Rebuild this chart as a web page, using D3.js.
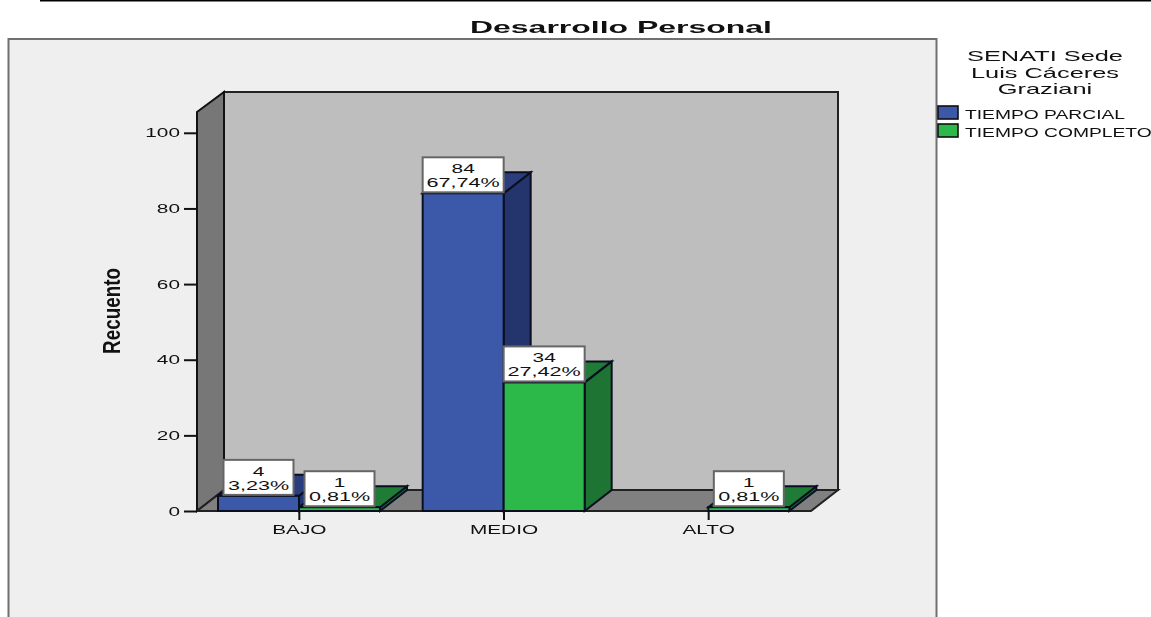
<!DOCTYPE html>
<html>
<head>
<meta charset="utf-8">
<script src="https://cdn.jsdelivr.net/npm/d3@7"></script>
<style>
html, body { margin: 0; padding: 0; background: #fff; }
svg { display: block; filter: blur(0.6px); }
text { font-family: "Liberation Sans", Arial, sans-serif; fill: #111; }
</style>
</head>
<body>
<svg id="chart" width="1151" height="617"></svg>
<script>
const categories = ['BAJO', 'MEDIO', 'ALTO']
const seriesNames = ['TIEMPO PARCIAL', 'TIEMPO COMPLETO']
const parcial = [4, 84, 0]
const completo = [1, 34, 1]
const parcialPct = ['3,23%', '67,74%', '0%']
const completoPct = ['0,81%', '27,42%', '0,81%']
const yTicks = [0, 20, 40, 60, 80, 100]
const legendTitle = ['SENATI Sede', 'Luis Cáceres', 'Graziani']

const colors = [
	{ front: '#3c58a8', side: '#24346c', top: '#2a3d7c' },
	{ front: '#2db84a', side: '#1e7433', top: '#1f7c36' }
]

const svg = d3.select('#chart')
const depthX = 27
const depthY = 21

// stretches a text horizontally, the picture is wider than it was drawn
const stretch = function(sel, k){
	sel.attr('lengthAdjust', 'spacingAndGlyphs')
		.attr('textLength', function(){ return this.getComputedTextLength() * k })
}

svg.append('line')
	.attr('x1', 40).attr('x2', 1151).attr('y1', 0.5).attr('y2', 0.5)
	.attr('stroke', '#000').attr('stroke-width', 2)

// outer panel, it runs off the bottom of the image
svg.append('rect')
	.attr('x', 8.5).attr('y', 39).attr('width', 928).attr('height', 620)
	.attr('fill', '#efefef').attr('stroke', '#707070').attr('stroke-width', 2)

svg.append('text')
	.attr('x', 621).attr('y', 33).attr('text-anchor', 'middle')
	.attr('font-size', 17).attr('font-weight', 'bold').attr('fill', '#000')
	.text('Desarrollo Personal')
	.call(stretch, 1.88)

// scales
const x = d3.scaleBand().domain(categories).range([197, 811])
const x1 = d3.scaleBand().domain([0, 1]).range([21, 183])
const y = d3.scaleLinear().domain([0, 105.5]).range([511, 112])

const x0 = x.range()[0]
const x9 = x.range()[1]
const yTop = y.range()[1]
const yBase = y.range()[0]
const poly = pts => pts.map(p => p.join(',')).join(' ')

// walls
svg.append('polygon')
	.attr('points', poly([[x0 + depthX, yTop - depthY + 1], [x9 + depthX, yTop - depthY + 1], [x9 + depthX, yBase - depthY], [x0 + depthX, yBase - depthY]]))
	.attr('fill', '#bebebe').attr('stroke', '#222').attr('stroke-width', 2)
svg.append('polygon')
	.attr('points', poly([[x0, yTop], [x0 + depthX, yTop - depthY + 1], [x0 + depthX, yBase - depthY], [x0, yBase]]))
	.attr('fill', '#777').attr('stroke', '#111').attr('stroke-width', 2)
svg.append('polygon')
	.attr('points', poly([[x0, yBase], [x0 + depthX, yBase - depthY], [x9 + depthX, yBase - depthY], [x9, yBase]]))
	.attr('fill', '#808080').attr('stroke', '#222').attr('stroke-width', 2)

// bars
const bars = []
categories.forEach((c, i) => {
	bars.push({ cat: c, s: 0, value: parcial[i], pct: parcialPct[i] })
	bars.push({ cat: c, s: 1, value: completo[i], pct: completoPct[i] })
})
const shown = bars.filter(d => d.value > 0)
const barX = d => x(d.cat) + x1(d.s)
const bw = x1.bandwidth()

const barG = svg.append('g').attr('stroke', '#0a0f20').attr('stroke-width', 2)
barG.selectAll('.side').data(shown).join('polygon')
	.attr('fill', d => colors[d.s].side)
	.attr('points', d => poly([[barX(d) + bw, y(d.value)], [barX(d) + bw + depthX, y(d.value) - depthY], [barX(d) + bw + depthX, yBase - depthY], [barX(d) + bw, yBase]]))
barG.selectAll('.top').data(shown).join('polygon')
	.attr('fill', d => colors[d.s].top)
	.attr('points', d => poly([[barX(d), y(d.value)], [barX(d) + depthX, y(d.value) - depthY], [barX(d) + bw + depthX, y(d.value) - depthY], [barX(d) + bw, y(d.value)]]))
barG.selectAll('.front').data(shown).join('rect')
	.attr('fill', d => colors[d.s].front)
	.attr('x', d => barX(d)).attr('y', d => y(d.value))
	.attr('width', bw).attr('height', d => yBase - y(d.value))

// axes
const yAxis = svg.append('g')
	.attr('transform', 'translate(' + x0 + ',0)')
	.call(d3.axisLeft(y).tickValues(yTicks).tickSize(13).tickPadding(4))
yAxis.select('.domain').remove()
yAxis.selectAll('line').attr('stroke', '#111').attr('stroke-width', 2)
yAxis.selectAll('text').attr('font-size', 13).call(stretch, 1.6)

const xAxis = svg.append('g')
	.attr('transform', 'translate(0,' + yBase + ')')
	.call(d3.axisBottom(x).tickSize(9).tickPadding(5))
xAxis.select('.domain').remove()
xAxis.selectAll('line').attr('stroke', '#111').attr('stroke-width', 2)
xAxis.selectAll('text').attr('font-size', 13).call(stretch, 1.6)

svg.append('text')
	.attr('transform', 'translate(120,311) rotate(-90)')
	.attr('text-anchor', 'middle')
	.attr('font-size', 23).attr('font-weight', 'bold').attr('fill', '#000')
	.text('Recuento')
	.call(stretch, 0.82)

// data labels
const labels = svg.append('g').selectAll('g').data(shown).join('g')
	.attr('transform', d => 'translate(' + (barX(d) + bw / 2) + ',' + y(d.value) + ')')
labels.append('rect')
	.attr('x', d => d.pct.length > 5 ? -40.5 : -35).attr('y', -36)
	.attr('width', d => d.pct.length > 5 ? 81 : 70).attr('height', 35)
	.attr('fill', '#fff').attr('stroke', '#666').attr('stroke-width', 2)
labels.append('text')
	.attr('y', -20).attr('text-anchor', 'middle').attr('font-size', 13)
	.text(d => d.value)
	.call(stretch, 1.6)
labels.append('text')
	.attr('y', -6).attr('text-anchor', 'middle').attr('font-size', 13)
	.text(d => d.pct)
	.call(stretch, 1.66)

// legend
svg.append('g').selectAll('text').data(legendTitle).join('text')
	.attr('x', 1045).attr('y', (d, i) => 61 + i * 16.5)
	.attr('text-anchor', 'middle').attr('font-size', 15).attr('fill', '#222')
	.text(d => d)
	.call(stretch, 1.69)

const legend = svg.append('g').selectAll('g').data(seriesNames).join('g')
	.attr('transform', (d, i) => 'translate(938,' + (106 + i * 18) + ')')
legend.append('rect')
	.attr('width', 20).attr('height', 13)
	.attr('fill', (d, i) => colors[i].front).attr('stroke', '#111').attr('stroke-width', 1.6)
legend.append('text')
	.attr('x', 27).attr('y', 13).attr('font-size', 13)
	.text(d => d)
	.call(stretch, 1.48)
</script>
</body>
</html>
